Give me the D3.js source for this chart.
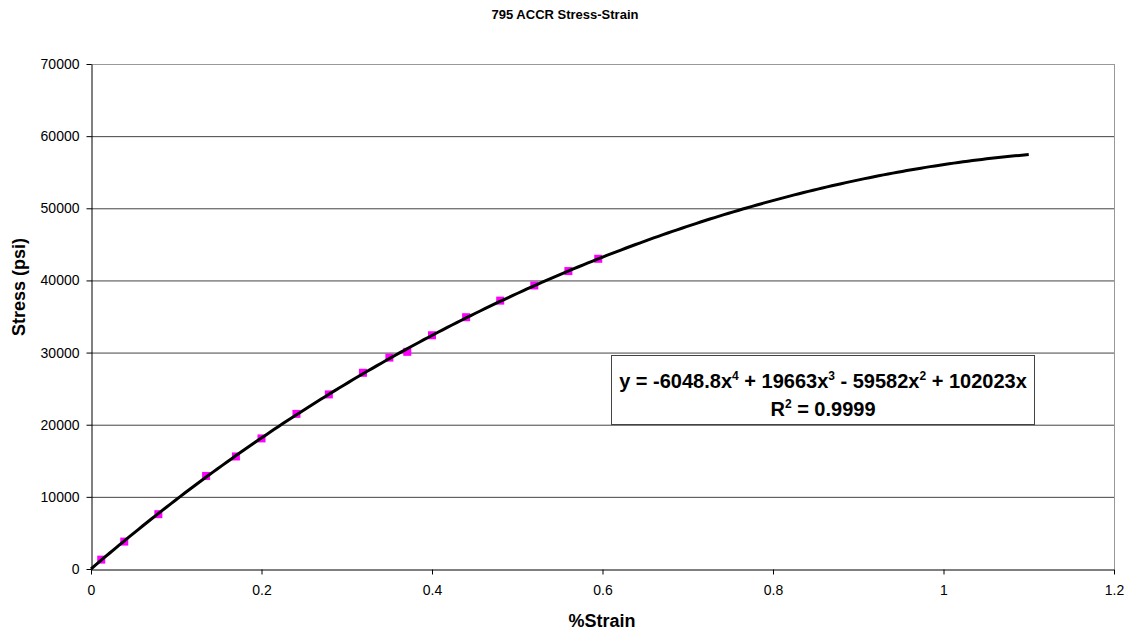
<!DOCTYPE html>
<html>
<head>
<meta charset="utf-8">
<script src="https://cdn.jsdelivr.net/npm/d3@7"></script>
<style>
  body { margin: 0; background: #fff; }
  svg { font-family: "Liberation Sans", Arial, sans-serif; }
</style>
</head>
<body>
<div id="chart"></div>
<script>
// measured points (% strain, psi)
var strain = [0.012, 0.039, 0.079, 0.135, 0.17, 0.2, 0.241, 0.279, 0.319, 0.35, 0.371,
              0.4, 0.44, 0.48, 0.52, 0.56, 0.595];
var stress = [1300, 3800, 7600, 12900, 15600, 18100, 21500, 24200, 27200, 29300, 30100,
              32400, 34900, 37200, 39300, 41300, 43000];
// trendline coefficients, x^4 .. x^1 (intercept 0)
var coef = [-6048.8, 19663, -59582, 102023];
var trendEnd = 1.1;
var xTicks = [0, 0.2, 0.4, 0.6, 0.8, 1, 1.2];
var yTicks = [0, 10000, 20000, 30000, 40000, 50000, 60000, 70000];

var width = 1129, height = 632;
var m = {left: 91, right: 15, top: 64, bottom: 63};

var svg = d3.select("#chart").append("svg")
    .attr("width", width)
    .attr("height", height);

var x = d3.scaleLinear().domain([0, 1.2]).range([m.left, width - m.right]);
var y = d3.scaleLinear().domain([0, 70000]).range([height - m.bottom, m.top]);

// gridlines
svg.append("g")
    .selectAll("line")
    .data(yTicks.filter(d => d > 0))
    .enter().append("line")
    .attr("x1", x(0)).attr("x2", x(1.2))
    .attr("y1", d => y(d) + 0.5).attr("y2", d => y(d) + 0.5)
    .attr("stroke", d => d == 70000 ? "#999" : "#444")
    .attr("stroke-width", 1);

// right border
svg.append("line")
    .attr("x1", x(1.2) + 0.5).attr("x2", x(1.2) + 0.5)
    .attr("y1", y(70000)).attr("y2", y(0))
    .attr("stroke", "#999");

// axes
var xAxis = svg.append("g")
    .attr("transform", `translate(0,${y(0) + 0.5})`)
    .call(d3.axisBottom(x).tickValues(xTicks).tickSize(5).tickSizeOuter(0)
        .tickFormat(d => d3.format("")(d)));
var yAxis = svg.append("g")
    .attr("transform", `translate(${x(0) + 0.5},0)`)
    .call(d3.axisLeft(y).tickValues(yTicks).tickSize(5).tickSizeOuter(0)
        .tickFormat(d3.format("d")));

[xAxis, yAxis].forEach(function (a) {
    a.select(".domain").attr("stroke", "#000");
    a.selectAll(".tick line").attr("stroke", "#000");
    a.selectAll(".tick text")
        .attr("fill", "#000")
        .style("font-size", "14px")
        .style("font-family", "Liberation Sans, Arial, sans-serif");
});
xAxis.selectAll(".tick text").attr("y", 16);
yAxis.selectAll(".tick text").attr("x", -12);

// trendline
function poly(t) {
    return coef[0] * Math.pow(t, 4) + coef[1] * Math.pow(t, 3) + coef[2] * t * t + coef[3] * t;
}
var steps = d3.range(0, 201).map(i => i / 200 * trendEnd);

// markers
svg.append("g")
    .selectAll("rect")
    .data(strain.map((s, i) => [s, stress[i]]))
    .enter().append("rect")
    .attr("x", d => x(d[0]) - 4)
    .attr("y", d => y(d[1]) - 4)
    .attr("width", 8)
    .attr("height", 8)
    .attr("fill", "#ff00ff");

svg.append("path")
    .datum(steps)
    .attr("fill", "none")
    .attr("stroke", "#000")
    .attr("stroke-width", 3)
    .attr("d", d3.line().x(d => x(d)).y(d => y(poly(d))));

// equation box
var box = svg.append("g").attr("transform", "translate(611.5,355.5)");
box.append("rect")
    .attr("width", 423).attr("height", 69)
    .attr("fill", "#fff")
    .attr("stroke", "#444");

// text with superscripts: each piece is [text, superscript]
function supText(g, ty, pieces) {
    var t = g.append("text")
        .attr("x", 211.5).attr("y", ty)
        .attr("text-anchor", "middle")
        .style("font-size", "20px")
        .style("font-weight", "bold");
    var shift = 0;
    pieces.forEach(function (p) {
        t.append("tspan").attr("dy", -shift).text(p[0]);
        shift = 0;
        if (p[1]) {
            t.append("tspan").attr("dy", -8).style("font-size", "12px").text(p[1]);
            shift = -8;
        }
    });
}
supText(box, 32, [["y = -6048.8x", "4"], [" + 19663x", "3"], [" - 59582x", "2"], [" + 102023x", ""]]);
supText(box, 60, [["R", "2"], [" = 0.9999", ""]]);

// titles
svg.append("text")
    .attr("x", 565).attr("y", 19)
    .attr("text-anchor", "middle")
    .style("font-size", "13px")
    .style("font-weight", "bold")
    .text("795 ACCR Stress-Strain");

svg.append("text")
    .attr("x", 602).attr("y", 627)
    .attr("text-anchor", "middle")
    .style("font-size", "18px")
    .style("font-weight", "bold")
    .text("%Strain");

svg.append("text")
    .attr("transform", "translate(25,287) rotate(-90)")
    .attr("text-anchor", "middle")
    .style("font-size", "18px")
    .style("font-weight", "bold")
    .text("Stress (psi)");
</script>
</body>
</html>
